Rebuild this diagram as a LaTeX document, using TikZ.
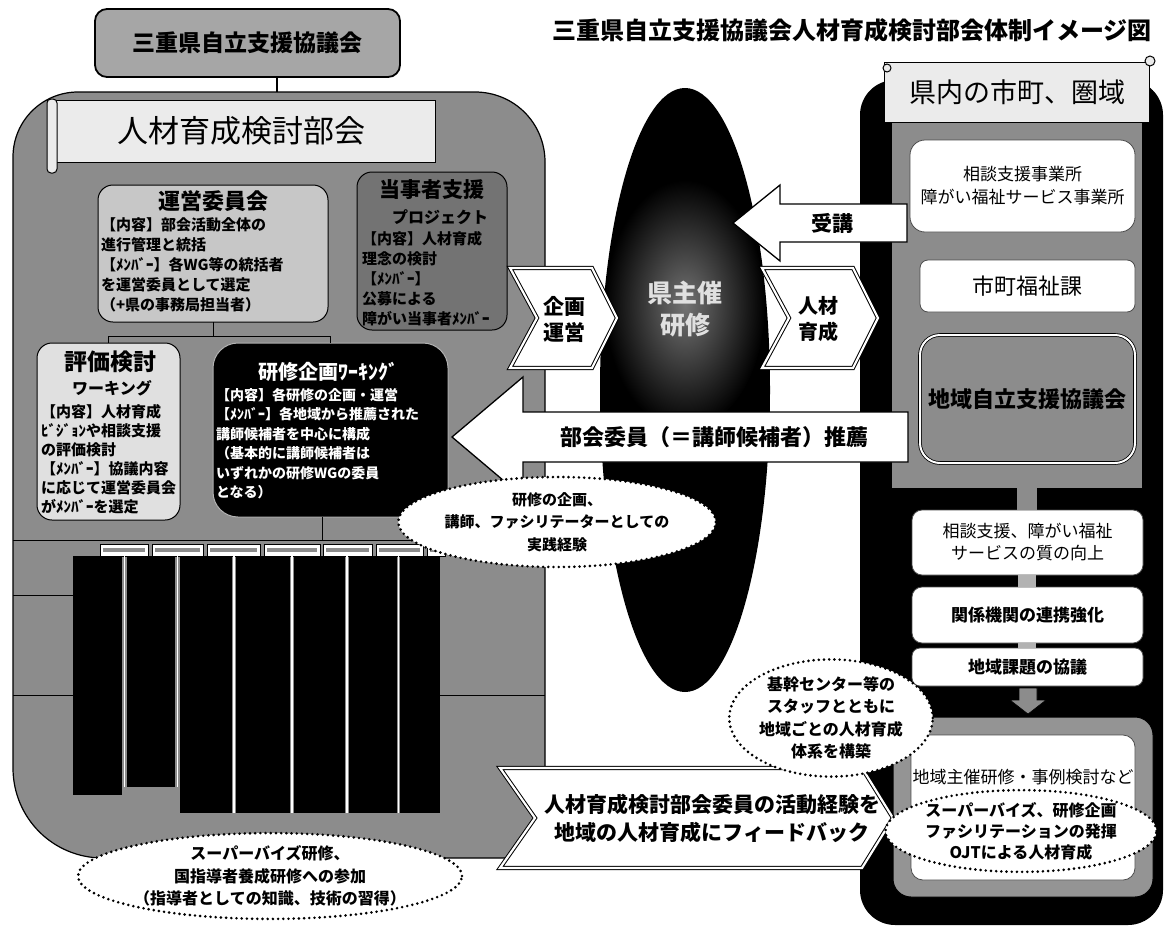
\documentclass[tikz,border=0pt]{standalone}
\usepackage{fontspec}
\setmainfont{Noto Sans CJK JP}
\usetikzlibrary{shapes.geometric}
\newcommand{\fsz}[2]{\fontsize{#1}{#2}\selectfont}
\begin{document}
\begin{tikzpicture}[x=1pt,y=-1pt,
  every node/.style={inner sep=0pt,outer sep=0pt},
  box/.style={draw=black,line width=1pt,rounded corners=#1},
  box/.default=10pt,
  dotell/.style={ellipse,fill=white,draw=black,line width=2.9pt,dash pattern=on 0pt off 5.2pt,line cap=round,align=center},
  dbl/.style={draw=black,line width=1pt,double=white,double distance=2.2pt,fill=white,line join=miter},
  arr/.style={draw=black,line width=1.3pt,fill=white,line join=miter},
  lab/.style={draw=black,line width=0.6pt,fill=white},
  wbox/.style={fill=white,draw=black!70,line width=0.8pt,rounded corners=#1},
  wbox/.default=10pt,
]
\useasboundingbox (0,0) rectangle (1167,929);
\fill[white] (0,0) rectangle (1167,929);

% ---------- left region ----------
\path[fill=black!45,draw=black,line width=1.2pt] (13,768) -- (13,157) .. controls (13,121) and (42,92) .. (78,92) -- (475,92) .. controls (514,92) and (545,123) .. (545,162) -- (545,835) .. controls (545,848) and (535,858) .. (522,858) -- (103,858) .. controls (53,858) and (13,818) .. (13,768) -- cycle;

% ---------- right panel ----------
\node[fill=black,rounded corners=35pt,minimum width=303pt,minimum height=845pt] (pref) at (1011.5,502.5) {};
\node[fill=black!45,minimum width=250pt,minimum height=366pt] (prefgray) at (1017,305) {};

% ---------- central ellipse ----------
\node[ellipse,fill=black,minimum width=170pt,minimum height=604pt] (kenell) at (685,390) {};
\shade[inner color=black!55,outer color=black] (685,305) ellipse [x radius=80,y radius=125];
\node[font=\bfseries\fsz{25}{32},text=black!12,align=center] (kentxt) at (685,309) {県主催\\研修};

% ---------- title ----------
\node[font=\bfseries\fsz{24}{24}] (title) at (852,30) {三重県自立支援協議会人材育成検討部会体制イメージ図};

% ---------- top-left box ----------
\node[box=12pt,line width=1.8pt,fill=black!35,minimum width=305pt,minimum height=68pt,font=\bfseries\fsz{23}{23}] (mie) at (247.5,43) {三重県自立支援協議会};
\coordinate (regtop) at (277,92);
\draw[line width=1.2pt] (mie.south -| regtop) -- (regtop);

% ---------- banner ----------
\node[draw=black,line width=1pt,fill=black!8,minimum width=388pt,minimum height=62pt,font=\fsz{31}{31}] (bukai) at (241,131) {人材育成検討部会};
\draw[line width=1pt,fill=black!8,rounded corners=4pt] (47,99) rectangle (57,173);

% ---------- 運営委員会 ----------
\node[box=15pt,fill=black!22,minimum width=230pt,minimum height=137pt] (unei) at (213,253.5) {};
\node[font=\bfseries\fsz{22}{22}] (ueiT) at (213,201) {運営委員会};
\node[font=\bfseries\fsz{15}{20},align=left,anchor=north west] (ueiB) at (101,218) {【内容】部会活動全体の\\進行管理と統括\\【ﾒﾝﾊﾞｰ】各WG等の統括者\\を運営委員として選定\\（+県の事務局担当者）};

% ---------- 当事者支援 ----------
\node[box=15pt,fill=black!55,minimum width=150pt,minimum height=158pt] (toji) at (432,251) {};
\node[font=\bfseries\fsz{21}{21}] (tojiT) at (432,190) {当事者支援};
\node[font=\bfseries\fsz{16}{16}] (tojiS) at (440,217) {プロジェクト};
\node[font=\bfseries\fsz{15}{20},align=left,anchor=north west] (tojiB) at (362,231) {【内容】人材育成\\理念の検討\\【ﾒﾝﾊﾞｰ】\\公募による\\障がい当事者ﾒﾝﾊﾞｰ};

% ---------- 評価検討 / 研修企画 ----------
\node[box=15pt,fill=black!12,minimum width=143pt,minimum height=177pt] (hyoka) at (108.5,431.5) {};
\node[font=\bfseries\fsz{23}{23}] (hyokaT) at (110,362) {評価検討};
\node[font=\bfseries\fsz{16}{16}] (hyokaS) at (112,388) {ワーキング};
\node[font=\bfseries\fsz{15}{19},align=left,anchor=north west] (hyokaB) at (41,404) {【内容】人材育成\\ﾋﾞｼﾞｮﾝや相談支援\\の評価検討\\【ﾒﾝﾊﾞｰ】協議内容\\に応じて運営委員会\\がﾒﾝﾊﾞｰを選定};

\node[fill=black,draw=black!30,line width=1pt,rounded corners=25pt,minimum width=235pt,minimum height=174pt] (kenshu) at (330.5,430) {};
\node[font=\bfseries\fsz{20}{20},text=white] (kenshuT) at (328,372) {研修企画ﾜｰｷﾝｸﾞ};
\node[font=\bfseries\fsz{14}{19.5},text=white,align=left,anchor=north west] (kenshuB) at (216,388) {【内容】各研修の企画・運営\\【ﾒﾝﾊﾞｰ】各地域から推薦された\\講師候補者を中心に構成\\（基本的に講師候補者は\\いずれかの研修WGの委員\\となる）};

% connectors inside
\coordinate (j1) at (213,336);
\draw[line width=1pt] (unei.south) -- (j1);
\draw[line width=1pt] (hyoka.north |- j1) -- (kenshu.north |- j1);
\draw[line width=1pt] (hyoka.north |- j1) -- (hyoka.north);
\draw[line width=1pt] (kenshu.north |- j1) -- (kenshu.north);
\coordinate (j2) at (322,540);
\draw[line width=1pt] (kenshu.south -| j2) -- (j2);
\draw[line width=0.8pt] (13,540) -- (445,540);

% labels and bars
\foreach \a/\b in {100/148,152/203,207/260,264/320,323/372,376/423,427/445}{
  \filldraw[lab] (\a,544) rectangle (\b,556);
  \fill[black!45] (\a+3,548) rectangle (\b-3,552);
}
\foreach \a/\b/\c in {73/122/795,127/175/787,180/232/813,236/290/813,294/345/813,349/397/813,400/440/813}{
  \fill[black] (\a,556) rectangle (\b,\c);
}
\foreach \x/\y in {124.5/787,177.5/787,234/813,292/813,347/813,398.5/813}{
  \draw[white,line width=1.5pt] (\x,556) -- (\x,\y);
}
\draw[line width=0.6pt] (13,595) -- (73,595);
\draw[line width=0.6pt] (13,695) -- (73,695);
\draw[line width=0.6pt] (440,695) -- (545,695);

% ---------- chevrons ----------
\path[dbl] (510,268) -- (592,268) -- (617,318) -- (592,368) -- (510,368) -- (537,318) -- cycle;
\node[font=\bfseries\fsz{21}{26},align=center] (kikaku) at (564,319) {企画\\運営};
\path[dbl] (762,268) -- (853,268) -- (878,318) -- (853,368) -- (762,368) -- (789,318) -- cycle;
\node[font=\bfseries\fsz{20}{26},align=center] (jinzai) at (818,319) {人材\\育成};

% ---------- right panel contents ----------
\node[draw=black,line width=1pt,fill=black!8,minimum width=265pt,minimum height=60pt,font=\fsz{27}{27}] (kennai) at (1017,92) {県内の市町、圏域};
\draw[line width=1pt,fill=black!8] (1150,61) circle [radius=5];
\draw[line width=1pt,fill=black!8] (887,68) circle [radius=4];

\node[wbox=15pt,minimum width=225pt,minimum height=92pt,font=\fsz{17}{23},align=center] (sodan) at (1022.5,186) {相談支援事業所\\障がい福祉サービス事業所};
\node[wbox=8pt,minimum width=215pt,minimum height=52pt,font=\fsz{22}{22}] (shicho) at (1027.5,286) {市町福祉課};
\node[fill=black!45,draw=black,line width=0.8pt,double=white,double distance=2pt,rounded corners=20pt,minimum width=215pt,minimum height=128pt,font=\bfseries\fsz{22}{22}] (chiikijiritsu) at (1027.5,399) {地域自立支援協議会};

\node[wbox=10pt,minimum width=231pt,minimum height=65pt,font=\fsz{17}{22},align=center] (shitsu) at (1027.5,542.5) {相談支援、障がい福祉\\サービスの質の向上};
\node[wbox=10pt,minimum width=231pt,minimum height=56pt,font=\bfseries\fsz{17}{17}] (renkei) at (1027.5,615) {関係機関の連携強化};
\node[wbox=8pt,minimum width=231pt,minimum height=38pt,font=\bfseries\fsz{17}{17}] (kadai) at (1027.5,667) {地域課題の協議};
\draw[line width=20pt,black!45] (prefgray.south -| 1027,0) -- (shitsu.north -| 1027,0);
\draw[line width=18pt,black!30] (shitsu.south -| 1027,0) -- (renkei.north -| 1027,0);
\draw[line width=18pt,black!30] (renkei.south -| 1027,0) -- (kadai.north -| 1027,0);

\node[fill=black!42,draw=black,line width=1pt,rounded corners=18pt,minimum width=260pt,minimum height=180pt] (shusai) at (1023,807) {};
\node[wbox=12pt,minimum width=224pt,minimum height=145pt] (shusaiin) at (1023,807.5) {};
\node[font=\fsz{17}{17}] (shusaiT) at (1023,777) {地域主催研修・事例検討など};
\path[fill=black!45,draw=black,line width=0.6pt] (1019,688) -- (1037,688) -- (1037,700) -- (1046,700) -- (1028,714) -- (1010,700) -- (1019,700) -- cycle;

% ---------- big arrows ----------
\path[arr] (907,204) -- (780,204) -- (780,185) -- (733,223) -- (780,261) -- (780,242) -- (907,242) -- cycle;
\node[font=\bfseries\fsz{21}{21}] (jukou) at (832,223) {受講};

\path[arr] (908,412) -- (523,412) -- (523,377) -- (452,437) -- (523,497) -- (523,462) -- (908,462) -- cycle;
\node[font=\bfseries\fsz{22}{22}] (suisen) at (714,437) {部会委員（＝講師候補者）推薦};

\node[dotell,minimum width=290pt,minimum height=90pt,font=\bfseries\fsz{15}{22.5}] (jissen) at (557,522) {研修の企画、\\講師、ファシリテーターとしての\\実践経験};

\path[dbl] (500,768) -- (862,768) -- (893,818) -- (862,868) -- (500,868) -- (535,818) -- cycle;
\node[font=\bfseries\fsz{21}{28},align=center] (feedback) at (712,818) {人材育成検討部会委員の活動経験を\\地域の人材育成にフィードバック};

% ---------- dotted ellipses ----------
\node[dotell,minimum width=160pt,minimum height=110pt,font=\bfseries\fsz{16}{22.5}] (kikan) at (831,718) {基幹センター等の\\スタッフとともに\\地域ごとの人材育成\\体系を構築};
\node[dotell,minimum width=236pt,minimum height=78pt,font=\bfseries\fsz{16}{21}] (ojt) at (1021,831) {スーパーバイズ、研修企画\\ファシリテーションの発揮\\OJTによる人材育成};
\node[dotell,minimum width=282pt,minimum height=80pt,font=\bfseries\fsz{16}{22.5}] (shido) at (270,876) {スーパーバイズ研修、\\国指導者養成研修への参加\\（指導者としての知識、技術の習得）};
\end{tikzpicture}
\end{document}
